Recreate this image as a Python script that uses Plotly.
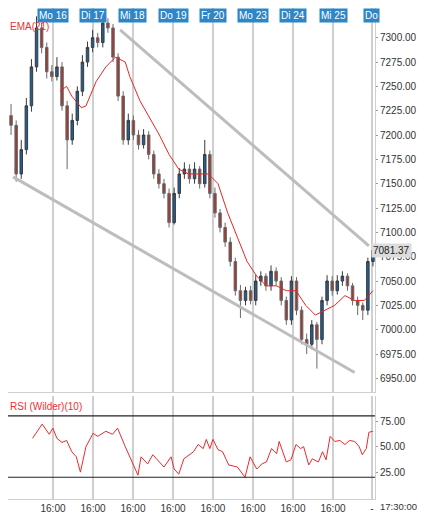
import plotly.graph_objects as go
from plotly.subplots import make_subplots

# bar index -> price
opens = [7220,7210,7160,7185,7230,7270,7310,7290,7265,7260, 7270,7230,7195,7215,7245,7275,7290,7300,7295,7315,
         7310,7280,7240,7195,7215,7200,7190,7200,7180,7160, 7150,7140,7110,7140,7160,7165,7155,7165,7150,7180,
         7140,7120,7105,7090,7070,7040,7030,7040,7030,7050, 7055,7045,7060,7050,7030,7010,7050,7020,6990,6985,
         7005,6990,7030,7050,7040,7050,7055,7045,7030,7025, 7020,7070]
highs = [7232,7215,7195,7238,7278,7322,7315,7295,7272,7280, 7275,7235,7222,7250,7282,7296,7308,7305,7326,7320,
         7314,7284,7245,7222,7220,7205,7206,7204,7184,7165, 7155,7145,7146,7166,7172,7170,7172,7168,7195,7184,
         7146,7124,7110,7095,7074,7046,7044,7045,7056,7060, 7058,7066,7064,7054,7034,7055,7054,7024,6996,7010,
         7008,7034,7056,7055,7056,7060,7058,7048,7034,7028, 7074,7085]
lows = [7200,7152,7155,7180,7224,7265,7284,7258,7255,7256, 7225,7165,7190,7210,7240,7270,7285,7290,7290,7305,
        7275,7235,7190,7190,7195,7185,7186,7175,7155,7145, 7135,7105,7108,7135,7155,7150,7150,7145,7146,7135,
        7115,7100,7085,7065,7035,7012,7025,7026,7025,7045, 7040,7040,7045,7025,7005,7005,7015,6985,6975,6980,
        6960,6985,7025,7035,7036,7045,7040,7025,7015,7010, 7015,7065]
closes = [7210,7160,7185,7230,7270,7310,7290,7265,7260,7270, 7230,7195,7215,7245,7275,7290,7300,7295,7315,7310,
          7280,7240,7195,7215,7200,7190,7200,7180,7160,7150, 7140,7110,7140,7160,7165,7155,7165,7150,7180,7140,
          7120,7105,7090,7070,7040,7030,7040,7030,7050,7055, 7045,7060,7050,7030,7010,7050,7020,6990,6985,7005,
          6990,7030,7050,7040,7050,7055,7045,7030,7025,7020, 7070,7081.37]
bars = list(range(len(closes)))

ema_x = [9.6,10.9,11.9,13.8,14.7,16.7,18.6,20.5,22.4,23.3,25.3,27.2,29.1,31,32.9,34.8,36.7,38.7,40.6,42.5,
         44.4,46.3,48.2,50.1,52.1,54,55.9,57.8,59.7,61.6,63.5,65.5,67.4,69.3,71]
ema = [7245,7250,7240,7228,7230,7255,7270,7280,7275,7260,7235,7218,7200,7180,7165,7160,7160,7160,7150,7120,
       7095,7070,7055,7045,7045,7040,7040,7025,7015,7020,7025,7035,7030,7030,7040]

rsi_x = [4.2,6.1,7.5,8.2,9,10,10.9,11.9,12.8,13.6,14.7,16.1,17,18.6,19.9,20.9,22.4,23.9,24.9,25.5,26.8,27.8,
         29.1,30,31.4,32,32.9,33.9,35.8,36.7,37.7,38.3,39,39.6,40.6,41.5,42.7,44.4,45.9,46.9,48.2,49.2,50.1,
         51.1,52.1,52.6,54,54.9,55.9,56.8,57.4,58.4,59.1,60.3,61.1,61.8,62.6,63.5,64.5,65.5,66.4,67.4,68.3,
         68.9,69.7,70.2,71]
rsi = [58,72,62,68,58,54,56,45,40,25,50,63,60,65,62,68,50,33,22,40,33,42,35,30,40,28,23,38,45,52,48,57,48,57,
       47,45,32,30,20,40,28,33,35,48,43,55,35,37,52,48,50,32,38,35,45,37,60,55,56,52,56,55,50,42,48,64,65]

day_pos = [8.23,16.08,23.92,31.77,39.6,47.46,55.3,63.16,70.8]
day_labels = ["Mo 16","Di 17","Mi 18","Do 19","Fr 20","Mo 23","Di 24","Mi 25","Do"]

fig = make_subplots(rows=2, cols=1, shared_xaxes=True)

fig.add_trace(go.Candlestick(
    x=bars, open=opens, high=highs, low=lows, close=closes,
    increasing=dict(fillcolor="#1f5f99", line=dict(color="#3a3a3a", width=1)),
    decreasing=dict(fillcolor="#9c3b33", line=dict(color="#6a6a6a", width=1)),
    whiskerwidth=0, showlegend=False), row=1, col=1)
fig.add_trace(go.Scatter(x=ema_x, y=ema, mode="lines", line=dict(color="#e8261f", width=1),
                         showlegend=False), row=1, col=1)
fig.add_trace(go.Scatter(x=rsi_x, y=rsi, mode="lines", line=dict(color="#f0282a", width=1),
                         showlegend=False), row=2, col=1)

# trend channel
fig.add_shape(type="line", x0=21.4, y0=7308, x1=70.2, y1=7086, line=dict(color="#bdbdbd", width=3), xref="x", yref="y")
fig.add_shape(type="line", x0=0.4, y0=7157, x1=67.4, y1=6956, line=dict(color="#bdbdbd", width=3), xref="x", yref="y")
# RSI bands
for lvl in (80, 20):
    fig.add_shape(type="line", x0=-0.6, x1=71.4, y0=lvl, y1=lvl, line=dict(color="#222", width=1.2), xref="x2", yref="y2")

for p, t in zip(day_pos, day_labels):
    fig.add_annotation(x=p, y=1, xref="x", yref="paper", text=t, showarrow=False, yanchor="top",
                       font=dict(color="white", size=10), bgcolor="#2f86c6", borderpad=1)

fig.add_annotation(x=1, y=7081.37, xref="paper", yref="y", text="7081.37", showarrow=False, xanchor="left",
                   xshift=-4, font=dict(color="#222", size=10), bgcolor="#dcdcdc", borderpad=1)
fig.add_annotation(x=0.0, y=7312, xref="paper", yref="y", text="EMA(21)", showarrow=False, xanchor="left",
                   font=dict(color="#f03030", size=10))
fig.add_annotation(x=0.0, y=97, xref="paper", yref="y2", text="RSI (Wilder)(10)", showarrow=False,
                   xanchor="left", yanchor="top", font=dict(color="#f03030", size=10))
fig.add_annotation(x=1, y=0, xref="paper", yref="paper", text="17:30:00", showarrow=False, xanchor="left",
                   xshift=3, yanchor="top", yshift=0, font=dict(color="#333", size=9.5))

axis_font = dict(family="Arial, Liberation Sans", size=10, color="#333")
fig.update_xaxes(range=[-0.6, 71.4], showgrid=True, gridcolor="#cfcfcf", gridwidth=1.5,
                 tickvals=day_pos[:-1] + [70.8], ticktext=["16:00"] * 8 + ["-"],
                 zeroline=False, showline=True, linecolor="#cfcfcf", tickfont=axis_font, ticks="")
fig.update_xaxes(rangeslider_visible=False, row=1, col=1)
fig.update_yaxes(side="right", showgrid=False, zeroline=False, showline=True, linecolor="#cfcfcf",
                 tickfont=axis_font, tickformat=".2f", ticks="outside", ticklen=2, tickcolor="#999")
fig.update_yaxes(range=[6936, 7330.5], dtick=25, tick0=6950, domain=[0.218, 1], row=1, col=1)
fig.update_yaxes(range=[-1.3, 99.6], tickvals=[25, 50, 75], domain=[0, 0.21], row=2, col=1)

fig.update_layout(autosize=True, margin=dict(l=0, r=41, t=0, b=13),
                  paper_bgcolor="white", plot_bgcolor="white", font=axis_font)
fig.write_html("out.html", default_width="100%", default_height="100%")
